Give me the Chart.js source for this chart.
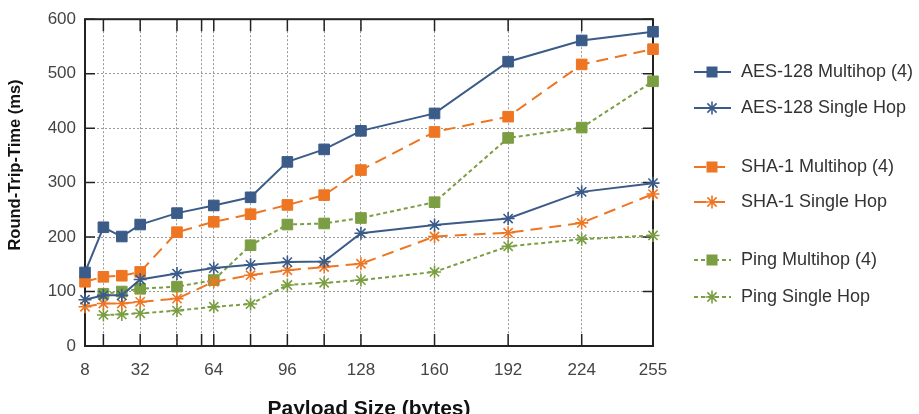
<!DOCTYPE html>
<html>
<head>
<meta charset="utf-8">
<script src="https://cdn.jsdelivr.net/npm/chart.js@4/dist/chart.umd.min.js"></script>
<style>
  html, body { margin: 0; padding: 0; background: #fff; }
  #wrap { width: 919px; height: 414px; }
</style>
</head>
<body>
<div id="wrap"><canvas id="rttChart" width="919" height="414"></canvas></div>
<script>
// payload sizes (bytes) and tick setup
const payloadSizes = [8, 16, 24, 32, 48, 64, 80, 96, 112, 128, 160, 192, 224, 255];
const xGridValues = [8, 16, 32, 48, 58.7, 64, 80, 96, 112, 128, 160, 192, 224, 255];
const xTickLabels = [8, 32, 64, 96, 128, 160, 192, 224, 255];
const yTickValues = [0, 100, 200, 300, 400, 500, 600];

// round-trip-time (ms)
const aesMultihop = [135, 218, 201, 223, 244, 258, 273, 338, 361, 395, 427, 522, 561, 577];
const aesSingle   = [85, 93, 93, 122, 133, 143, 149, 154, 155, 207, 222, 234, 283, 299];
const shaMultihop = [118, 127, 129, 136, 209, 228, 242, 259, 277, 323, 393, 421, 517, 545];
const shaSingle   = [72, 78, 78, 81, 87, 118, 130, 139, 145, 151, 201, 208, 226, 279];
const pingMultihop = [null, 96, 100, 105, 109, 121, 185, 223, 225, 235, 264, 382, 401, 486];
const pingSingle   = [null, 57, 58, 60, 65, 72, 77, 112, 116, 121, 136, 183, 196, 203];

const seriesNames = ['AES-128 Multihop (4)', 'AES-128 Single Hop', 'SHA-1 Multihop (4)',
  'SHA-1 Single Hop', 'Ping Multihop (4)', 'Ping Single Hop'];
const yTitle = 'Round-Trip-Time (ms)';

const BLUE = '#3b5b88', ORANGE = '#ee7623', GREEN = '#7b9e42';
const FONT = "'Liberation Sans', Arial, sans-serif";
Chart.defaults.font.family = FONT;

function toPoints(values) {
  return payloadSizes.map((x, i) => ({ x: x, y: values[i] })).filter(p => p.y !== null);
}

function makeSeries(label, values, color, marker, dash) {
  return {
    label: label,
    data: toPoints(values),
    borderColor: color,
    backgroundColor: color,
    borderWidth: 2,
    borderDash: dash,
    pointStyle: marker,
    pointRadius: marker === 'rect' ? 7.5 : 6.5,
    pointBorderWidth: marker === 'rect' ? 1 : 1.6,
    pointBackgroundColor: color,
    pointBorderColor: color,
    tension: 0,
    clip: false
  };
}

const datasets = [
  makeSeries(seriesNames[0], aesMultihop, BLUE, 'rect', []),
  makeSeries(seriesNames[1], aesSingle, BLUE, 'star', []),
  makeSeries(seriesNames[2], shaMultihop, ORANGE, 'rect', [12, 7]),
  makeSeries(seriesNames[3], shaSingle, ORANGE, 'star', [12, 7]),
  makeSeries(seriesNames[4], pingMultihop, GREEN, 'rect', [4, 3]),
  makeSeries(seriesNames[5], pingSingle, GREEN, 'star', [4, 3])
];

// frame with inward tick marks, like the original plot
const framePlugin = {
  id: 'frame',
  beforeDatasetsDraw(chart) {
    const { ctx, chartArea: a, scales } = chart;
    ctx.save();
    ctx.strokeStyle = '#222';
    ctx.lineWidth = 1.5;
    ctx.beginPath();
    yTickValues.forEach(v => {
      const y = scales.y.getPixelForValue(v);
      ctx.moveTo(a.left, y); ctx.lineTo(a.left + 10, y);
      ctx.moveTo(a.right, y); ctx.lineTo(a.right - 10, y);
    });
    xGridValues.forEach(v => {
      const x = scales.x.getPixelForValue(v);
      ctx.moveTo(x, a.bottom); ctx.lineTo(x, a.bottom - 12);
      ctx.moveTo(x, a.top); ctx.lineTo(x, a.top + 12);
    });
    ctx.stroke();
    ctx.lineWidth = 2;
    ctx.strokeRect(a.left, a.top, a.right - a.left, a.bottom - a.top);

    // y axis title, placed a bit above the plot centre as in the source
    ctx.translate(15, 165);
    ctx.rotate(-Math.PI / 2);
    ctx.fillStyle = '#111';
    ctx.font = 'bold 16.5px ' + FONT;
    ctx.textAlign = 'center';
    ctx.textBaseline = 'middle';
    ctx.fillText(yTitle, 0, 0);
    ctx.restore();
  }
};

function drawMarker(ctx, style, x, y, color) {
  ctx.fillStyle = color;
  ctx.strokeStyle = color;
  if (style === 'rect') {
    ctx.fillRect(x - 5.5, y - 5.5, 11, 11);
  } else {
    const r = 6.5, d = r * Math.SQRT1_2;
    ctx.lineWidth = 1.6;
    ctx.setLineDash([]);
    ctx.beginPath();
    ctx.moveTo(x, y - r); ctx.lineTo(x, y + r);
    ctx.moveTo(x - r, y); ctx.lineTo(x + r, y);
    ctx.moveTo(x - d, y - d); ctx.lineTo(x + d, y + d);
    ctx.moveTo(x - d, y + d); ctx.lineTo(x + d, y - d);
    ctx.stroke();
  }
}

// grouped legend on the right
const legendPlugin = {
  id: 'groupedLegend',
  afterDraw(chart) {
    const ctx = chart.ctx;
    const rows = [72, 108, 167, 202, 260, 297];
    ctx.save();
    chart.data.datasets.forEach((ds, i) => {
      const y = rows[i];
      ctx.strokeStyle = ds.borderColor;
      ctx.lineWidth = 2;
      ctx.setLineDash(ds.borderDash);
      ctx.beginPath();
      ctx.moveTo(694, y); ctx.lineTo(731, y);
      ctx.stroke();
      drawMarker(ctx, ds.pointStyle, 712, y, ds.borderColor);
      ctx.fillStyle = '#333';
      ctx.font = '18px ' + FONT;
      ctx.textBaseline = 'middle';
      ctx.textAlign = 'left';
      ctx.fillText(ds.label, 741, y);
    });
    ctx.restore();
  }
};

const rttChart = new Chart(document.getElementById('rttChart').getContext('2d'), {
  type: 'line',
  data: { datasets: datasets },
  options: {
    responsive: false,
    animation: false,
    devicePixelRatio: 1,
    layout: { padding: { left: 0, right: 266, top: 10, bottom: 0 } },
    plugins: { legend: { display: false }, tooltip: { enabled: false } },
    scales: {
      x: {
        type: 'linear',
        min: 8,
        max: 255,
        afterBuildTicks: axis => { axis.ticks = xGridValues.map(v => ({ value: v })); },
        afterFit: s => { s.height = 68; },
        ticks: {
          autoSkip: false,
          maxRotation: 0,
          padding: 14,
          color: '#444',
          font: { size: 17 },
          callback: v => xTickLabels.includes(v) ? String(v) : ''
        },
        grid: { color: '#9a9a9a', lineWidth: 1, drawTicks: false },
        border: { display: false, dash: [2, 2] },
        title: {
          display: true,
          text: 'Payload Size (bytes)',
          color: '#111',
          font: { size: 21, weight: 'bold' },
          padding: { top: 0, bottom: -8 }
        }
      },
      y: {
        min: 0,
        max: 600,
        afterFit: s => { s.width = 85; },
        ticks: { stepSize: 100, padding: 9, color: '#444', font: { size: 17 } },
        grid: { color: '#9a9a9a', lineWidth: 1, drawTicks: false },
        border: { display: false, dash: [2, 2] }
      }
    }
  },
  plugins: [framePlugin, legendPlugin]
});
</script>
</body>
</html>
